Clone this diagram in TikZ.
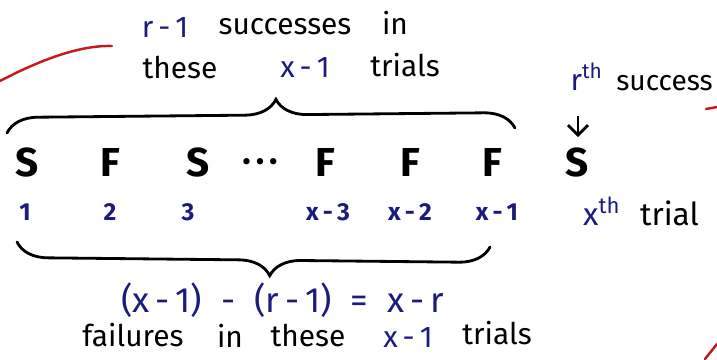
\documentclass[tikz,border=0pt]{standalone}
\usepackage{fontspec}
\setmainfont{Fira Sans}
\usetikzlibrary{arrows.meta, decorations.pathreplacing}
\definecolor{hblue}{HTML}{1B1B7E}
\definecolor{hred}{HTML}{C41A1E}
\tikzset{
  every picture/.style={line width=1.6pt},
  word/.style={font=\fontsize{17}{19}\selectfont, inner sep=1pt},
  bword/.style={word, text=hblue},
  trial/.style={font=\fontsize{23}{25}\selectfont\bfseries, inner sep=1pt},
  idx/.style={font=\fontsize{14}{16}\selectfont\bfseries, text=hblue, inner sep=1pt},
  curly/.style={decorate, decoration={brace, amplitude=0.62cm, aspect=#1}, line cap=round},
  curly/.default=0.5,
  ink/.style={draw=hred, line width=1.4pt, line cap=round},
}
\begin{document}
\begin{tikzpicture}
  \useasboundingbox (0,0) rectangle (14.34,-7.18);
  \node[bword] (rm1) at (3.3,-0.56) {r\,-\,1};
  \node[word] (succ) at (5.7,-0.54) {successes};
  \node[word] (in1) at (7.9,-0.46) {in};
  \node[word] (these1) at (3.6,-1.36) {these};
  \node[bword] (xm1) at (6.1,-1.36) {x\,-\,1};
  \node[word] (trials1) at (8.1,-1.3) {trials};
  \coordinate (tl) at (0.14,-2.66);
  \coordinate (tr) at (10.3,-2.56);
  \draw[curly=0.53] (tl) -- (tr);
  \node[trial] (s1) at (0.54,-3.24) {S};
  \node[trial] (f2) at (2.2,-3.24) {F};
  \node[trial] (s3) at (3.96,-3.24) {S};
  \node[trial] (dots) at (5.2,-3.28) {\fontsize{13}{15}\selectfont\textbullet\ \textbullet\ \textbullet};
  \node[trial] (f4) at (6.5,-3.24) {F};
  \node[trial] (f5) at (8.2,-3.24) {F};
  \node[trial] (f6) at (9.84,-3.24) {F};
  \node[trial] (s7) at (11.54,-3.24) {S};
  \node[idx] (n1) at (0.5,-4.24) {1};
  \node[idx] (n2) at (2.2,-4.24) {2};
  \node[idx] (n3) at (3.76,-4.24) {3};
  \node[idx] (n4) at (6.56,-4.24) {x\,-\,3};
  \node[idx] (n5) at (8.2,-4.24) {x\,-\,2};
  \node[idx] (n6) at (9.94,-4.24) {x\,-\,1};
  \node[bword, anchor=base west] (rth) at (11.35,-1.8) {r\textsuperscript{th}};
  \node[word, anchor=base east, font=\fontsize{16}{18}\selectfont] (succ2) at (14.32,-1.8) {success};
  \coordinate (ra) at (11.56,-2.32);
  \coordinate (rb) at (11.56,-2.74);
  \draw[-{Straight Barb[length=2mm]}] (ra) -- (rb);
  \node[bword, anchor=base west, font=\fontsize{18}{20}\selectfont] (xth) at (11.6,-4.5) {x\textsuperscript{th}};
  \node[word, anchor=base west, font=\fontsize{18}{20}\selectfont] (trial2) at (12.74,-4.5) {trial};
  \coordinate (bl) at (0.34,-4.84);
  \coordinate (br) at (9.8,-4.94);
  \draw[curly=0.465] (br) -- (bl);
  \node[bword, font=\fontsize{20}{22}\selectfont] (eq) at (5.65,-6.0) {(x\,-\,1)\; -\; (r\,-\,1)\; =\; x\,-\,r};
  \node[word] (fail) at (2.66,-6.7) {failures};
  \node[word] (in2) at (4.6,-6.72) {in};
  \node[word] (these2) at (6.16,-6.7) {these};
  \node[bword] (xm2) at (8.16,-6.74) {x\,-\,1};
  \node[word] (trials2) at (9.94,-6.66) {trials};
  \draw[ink] (0,-1.62) .. controls (0.8,-1.2) and (1.6,-0.9) .. (2.24,-0.92);
  \draw[ink] (14.12,-2.18) -- (14.34,-2.14);
  \draw[ink] (14.1,-7.18) -- (14.34,-6.88);
\end{tikzpicture}
\end{document}
